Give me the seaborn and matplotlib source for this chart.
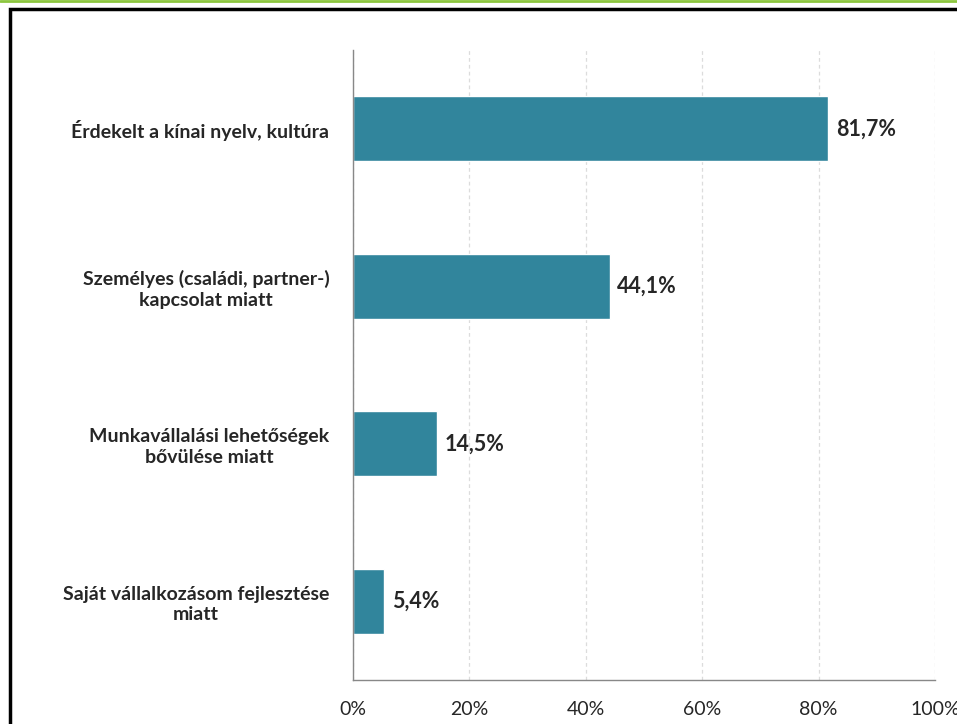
import matplotlib
matplotlib.use('Agg')
import matplotlib.pyplot as plt
import seaborn as sns
import pandas as pd
from matplotlib.patches import Rectangle
from matplotlib.lines import Line2D
from matplotlib.ticker import FixedLocator

sns.set_style('white')
plt.rcParams['font.family'] = ['Lato', 'DejaVu Sans']

# data
categories = ['Érdekelt a kínai nyelv, kultúra',
              'Személyes (családi, partner-)\nkapcsolat miatt',
              'Munkavállalási lehetőségek\nbővülése miatt',
              'Saját vállalkozásom fejlesztése\nmiatt']
values = [81.7, 44.1, 14.5, 5.4]
value_labels = ['81,7%', '44,1%', '14,5%', '5,4%']
x_ticks = [0, 20, 40, 60, 80, 100]

df = pd.DataFrame({'reason': categories, 'pct': values})

fig = plt.figure(figsize=(9.57, 7.24), dpi=100)
ax = fig.add_axes([353 / 957, 44 / 724, 582 / 957, 630 / 724])

sns.barplot(data=df, x='pct', y='reason', orient='h', color='#31859c',
            saturation=1, width=0.41, ax=ax)

ax.set_xlim(0, 100)
ax.set_ylim(3.5, -0.5)
ax.set_xticks(x_ticks)
ax.set_xticklabels([f'{t}%' for t in x_ticks], fontsize=14)
ax.set_xlabel('')
ax.set_ylabel('')

# category labels, centred lines
ax.set_yticks(range(len(categories)))
ax.set_yticklabels(categories, fontsize=14, fontweight='bold', multialignment='center',
                   linespacing=1.25)
ax.tick_params(axis='y', which='major', length=0, pad=17)
ax.yaxis.set_minor_locator(FixedLocator([-0.5, 0.5, 1.5, 2.5, 3.5]))
ax.tick_params(axis='y', which='minor', length=6, color='#888888', width=1)
ax.tick_params(axis='x', which='major', length=5, color='#888888', pad=10)

ax.xaxis.grid(True, linestyle=(0, (3, 2.5)), color='#dcdcdc', linewidth=0.9)
ax.set_axisbelow(True)
for s in ['top', 'right']:
    ax.spines[s].set_visible(False)
for s in ['left', 'bottom']:
    ax.spines[s].set_color('#888888')
    ax.spines[s].set_linewidth(1)

for i, (v, lab) in enumerate(zip(values, value_labels)):
    ax.text(v + 1.3, i, lab, va='center', ha='left', fontsize=15.5, fontweight='bold')

# outer frame and green top line
fig.patches.append(Rectangle((9.5 / 957, -0.1), 1.2, (724 - 8.5) / 724 + 0.1,
                             transform=fig.transFigure, fill=False,
                             edgecolor='black', linewidth=2.5))
fig.lines.append(Line2D([0, 1], [1 - 1 / 724, 1 - 1 / 724], transform=fig.transFigure,
                        color='#8cc63f', linewidth=2))

plt.savefig('out.png', dpi=100)
